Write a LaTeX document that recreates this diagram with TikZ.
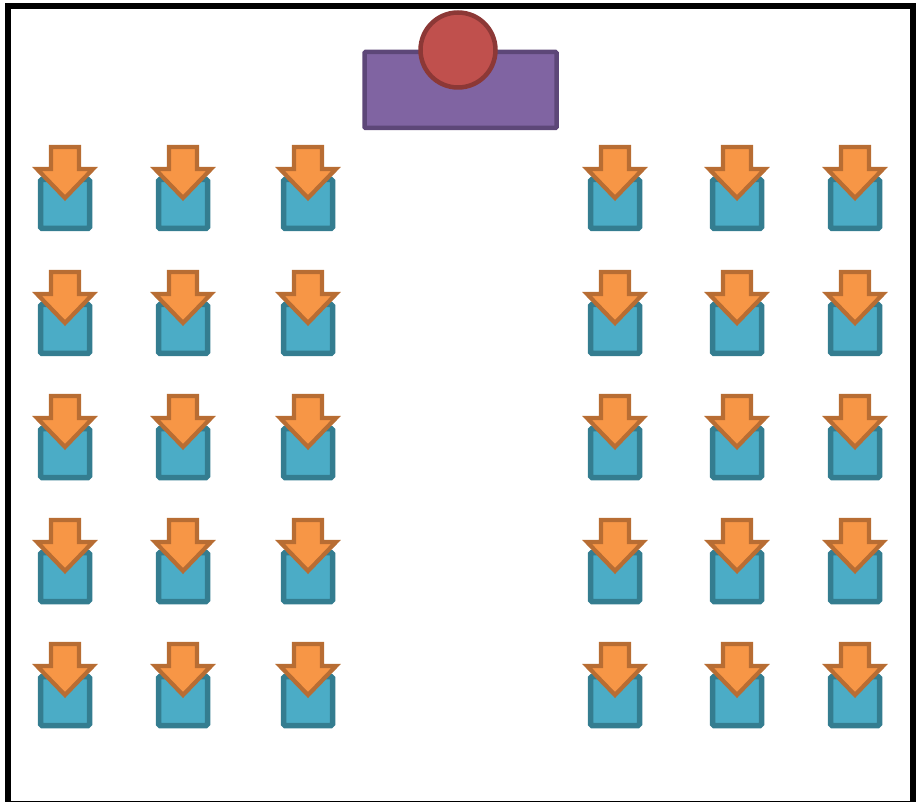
\documentclass[tikz,border=0pt]{standalone}
\usetikzlibrary{positioning}
\definecolor{deskfill}{HTML}{4BACC6}
\definecolor{deskline}{HTML}{347D90}
\definecolor{arrfill}{HTML}{F79646}
\definecolor{arrline}{HTML}{B86D33}
\definecolor{tchfill}{HTML}{8064A2}
\definecolor{tchline}{HTML}{5D4778}
\definecolor{headfill}{HTML}{C0504D}
\definecolor{headline}{HTML}{8C3836}
\begin{document}
\begin{tikzpicture}[x=1pt,y=-1pt,
  desk/.style={draw=deskline,fill=deskfill,line width=5.5pt,rounded corners=1.5pt,minimum width=49pt,minimum height=49pt,inner sep=0pt},
  facing/.style={draw=arrline,fill=arrfill,line width=4.2pt,line join=miter},
  table/.style={draw=tchline,fill=tchfill,line width=4.5pt,rounded corners=1pt,minimum width=192pt,minimum height=76pt,inner sep=0pt},
  teacher/.style={circle,draw=headline,fill=headfill,line width=4.5pt,minimum size=75pt,inner sep=0pt}]
\useasboundingbox (0,0) rectangle (916,802);
\draw[line width=6pt] (8.3,6) rectangle (913,804);
% front of the room
\node[table] (tbl) at (460.5,90) {};
\node[teacher] (tch) at (458,50) {};
% rows of desks, everyone facing the front
\foreach \r/\y in {1/204,2/329,3/453,4/577,5/701}{
  \foreach \c/\x in {1/65,2/183,3/308,4/615,5/737,6/855}{
    \node[desk] (d-\r-\c) at (\x,\y) {};
    \draw[facing] ([yshift=6pt]d-\r-\c.center) -- ++(-28,-29) -- ++(14,0) -- ++(0,-22)
      -- ++(28,0) -- ++(0,22) -- ++(14,0) -- cycle;
  }
}
\end{tikzpicture}
\end{document}
